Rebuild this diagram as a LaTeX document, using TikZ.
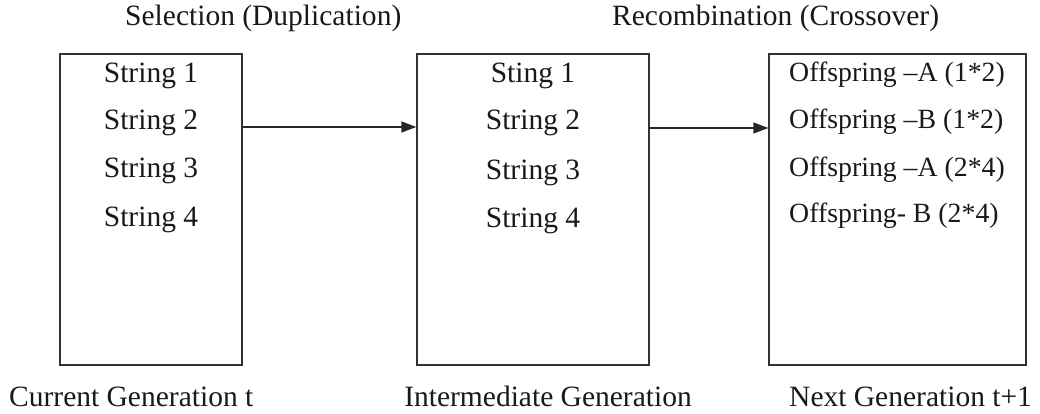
\documentclass[tikz,border=0pt]{standalone}
\usepackage{fontspec}
\setmainfont{Liberation Serif}
\usetikzlibrary{arrows.meta}
\tikzset{
  genbox/.style={draw=black!80, line width=1.3pt, minimum height=311pt, inner sep=0pt},
  label/.style={inner sep=0pt, font=\fontsize{29.5}{34}\selectfont, text=black!90},
  offspring/.style={label, font=\fontsize{27.8}{32}\selectfont},
  flow/.style={draw=black!85, line width=1.3pt, -{Triangle[length=15pt,width=11pt]}}
}
\begin{document}
\begin{tikzpicture}[x=1pt,y=-1pt]
\useasboundingbox (0,0) rectangle (1040,414);

% generation boxes
\node[genbox, minimum width=182pt] (cur) at (151,209.5) {};
\node[genbox, minimum width=232pt] (mid) at (533,209.5) {};
\node[genbox, minimum width=257pt] (nxt) at (897.5,209.5) {};

% operator labels
\node[label, anchor=base west] (sel) at (125,26) {Selection (Duplication)};
\node[label, anchor=base west] (rec) at (612,26) {Recombination (Crossover)};

% current generation
\node[label, anchor=base] (c1) at (151,83) {String 1};
\node[label, anchor=base] (c2) at (151,130) {String 2};
\node[label, anchor=base] (c3) at (151,178) {String 3};
\node[label, anchor=base] (c4) at (151,226) {String 4};

% intermediate generation
\node[label, anchor=base] (m1) at (533,83) {Sting 1};
\node[label, anchor=base] (m2) at (533,130) {String 2};
\node[label, anchor=base] (m3) at (533,179) {String 3};
\node[label, anchor=base] (m4) at (533,227) {String 4};

% next generation
\node[offspring, anchor=base west] (n1) at (789,82) {Offspring –A (1*2)};
\node[offspring, anchor=base west] (n2) at (789,129) {Offspring –B (1*2)};
\node[offspring, anchor=base west] (n3) at (789,176) {Offspring –A (2*4)};
\node[offspring, anchor=base west] (n4) at (789,222) {Offspring- B (2*4)};

% generation names
\node[label, anchor=base west] (gc) at (9,406) {Current Generation t};
\node[label, anchor=base] (gm) at (548,406) {Intermediate Generation};
\node[label, anchor=base west] (gn) at (789,406) {Next Generation t+1};

% flow between generations
\draw[flow] (cur.east |- 0,127) -- (mid.west |- 0,127);
\draw[flow] (mid.east |- 0,128) -- (nxt.west |- 0,128);
\end{tikzpicture}
\end{document}
